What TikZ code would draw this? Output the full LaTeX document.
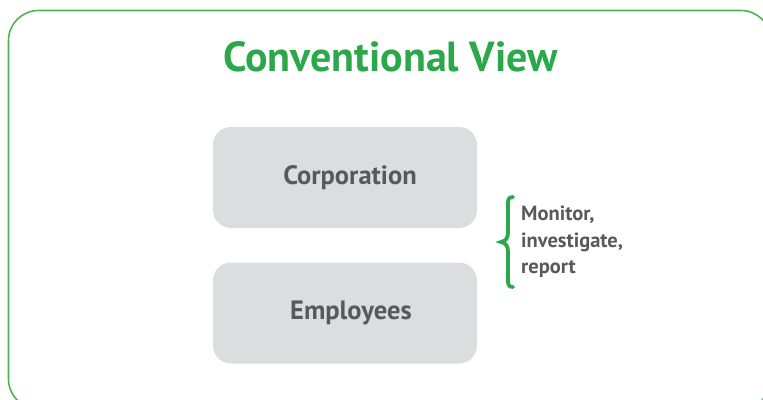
\documentclass[tikz,border=0pt]{standalone}
\usepackage{fontspec}
\setmainfont{PT Sans}
\definecolor{titlegreen}{HTML}{2BA84A}
\definecolor{framegreen}{HTML}{4DB354}
\definecolor{boxgray}{HTML}{DCDDDF}
\definecolor{textgray}{HTML}{58595B}
\begin{document}
\begin{tikzpicture}[x=1pt,y=-1pt,
  entity/.style={draw=none,fill=boxgray,rounded corners=18pt,minimum width=264pt,minimum height=101pt,inner sep=0pt,
    text=textgray,font=\fontsize{26.5}{30}\selectfont\bfseries},
  sidenote/.style={text=textgray,font=\fontsize{20.5}{26.5}\selectfont\bfseries,align=left,anchor=west,inner sep=0pt}]
\useasboundingbox (0,0) rectangle (763,399);
\draw[framegreen,line width=1.6pt,rounded corners=30pt] (8.5,10.5) rectangle (771,409);
\node[text=titlegreen,font=\fontsize{42}{50}\selectfont\bfseries] (title) at (390.5,57) {Conventional View};
\node[entity] (corp) at (345,177.5) {\hspace*{10pt}Corporation};
\node[entity] (emp) at (345,313) {\hspace*{12pt}Employees};
\node[sidenote] (note) at (521,242) {Monitor,\\investigate,\\report};
\draw[titlegreen,line width=3.8pt,line cap=round]
  (513,197) .. controls (508,197) and (508,200) .. (508,205)
  -- (508,232) .. controls (508,238) and (506,241) .. (501,242)
  .. controls (506,243) and (508,246) .. (508,252)
  -- (508,279) .. controls (508,284) and (508,287) .. (513,287);
\end{tikzpicture}
\end{document}
